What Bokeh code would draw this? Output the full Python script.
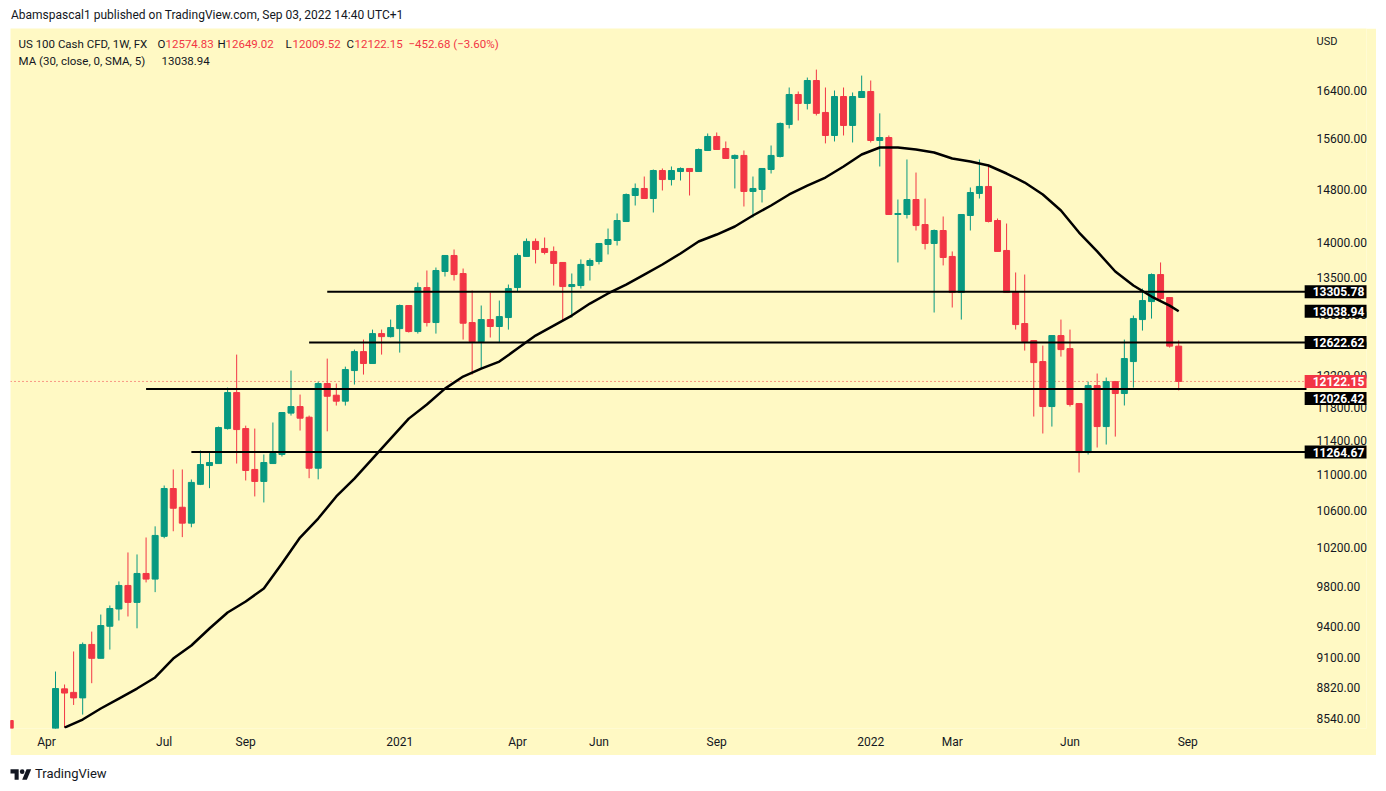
import numpy as np
import pandas as pd
from bokeh.plotting import figure
from bokeh.models import (ColumnDataSource, FixedTicker, PrintfTickFormatter,
                          Range1d, Label, Div)
from bokeh.layouts import column
from bokeh.embed import file_html
from bokeh.resources import INLINE

nan = float("nan")

# ---------------- data (weekly candles, US 100 Cash CFD) ----------------
week_dates = pd.date_range("2020-03-09", periods=130, freq="7D")

opens = [8523, nan, nan, nan, nan,
         8240, 8808, 8776, 8726, 9224, 9092, 9400, 9570, 9807, 9636,
         9930, 9872, 10320, 10846, 10637, 10463, 10893, 11108, 11131, 11543,
         11983, 11543, 11063, 10926, 11131, 11236, 11730, 11810, 11680, 11077,
         12096, 11950, 11876, 12260, 12504, 12350, 12740, 12700, 12806, 13117,
         12767, 13364, 12887, 13589, 13817, 13560, 12887, 12635, 12927, 12834,
         12954, 13364, 13803, 14020, 13918, 13875, 13717, 13378, 13392, 13675,
         13731, 13976, 14034, 14313, 14705, 14813, 14659, 15092, 14951, 15076,
         15124, 15076, 15409, 15635, 15441, 15282, 15330, 14767, 14797, 15108,
         15314, 15832, 16332, 16181, 16571, 16030, 15651, 16298, 15815, 16281,
         16383, 15570, 15618, 14418, 14418, 14644, 14268, 13990, 14180, 13803,
         13295, 14403, 14736, 14844, 14328, 13889, 13309, 12874, 12648, 12375,
         11810, 12714, 12543, 11847, 11259, 12070, 11567, 12120, 11971, 12375,
         12927, 13171, 13546, 13226, 12574.83]

highs = [8523, nan, nan, nan, nan,
         8968, 8848, 9157, 9243, 9348, 9515, 9605, 9848, 10149, 10128,
         10308, 10428, 10880, 11063, 11063, 10948, 11283, 11271, 11567, 12045,
         12465, 11578, 11543, 11236, 11616, 11740, 12260, 11958, 11700, 12120,
         12413, 12096, 12310, 12530, 12661, 12793, 12793, 12927, 13130, 13117,
         13434, 13603, 13645, 13817, 13903, 13631, 13323, 13117, 13295, 13185,
         13406, 13846, 14063, 14063, 14077, 13947, 13717, 13561, 13760, 13774,
         13990, 14209, 14433, 14736, 14890, 14998, 15108, 15124, 15155, 15140,
         15124, 15441, 15684, 15700, 15554, 15346, 15409, 14998, 15124, 15489,
         15864, 16451, 16383, 16622, 16760, 16451, 16400, 16451, 16366, 16656,
         16571, 16015, 15651, 14644, 15266, 15060, 14659, 14195, 14388, 13875,
         14418, 14828, 15266, 15187, 14358, 14283, 13575, 13546, 12648, 12582,
         12714, 12927, 12793, 11847, 12120, 12222, 12171, 12120, 12661, 12981,
         13350, 13561, 13717, 13226, 12649.02]

lows = [8300, nan, nan, nan, nan,
        8150, 8460, 8662, 8576, 8860, 9092, 9175, 9456, 9496, 9380,
        9838, 9739, 10300, 10375, 10312, 10418, 10885, 10850, 11131, 11531,
        11131, 10937, 10757, 10690, 11131, 11213, 11700, 11519, 10963, 10950,
        11510, 11822, 11822, 12083, 12209, 12350, 12465, 12688, 12491, 12754,
        12740, 12834, 12740, 13518, 13462, 12661, 12209, 12285, 12688, 12622,
        12793, 13309, 13803, 13703, 13832, 13392, 12914, 12954, 13350, 13462,
        13689, 13832, 13961, 14313, 14553, 14659, 14448, 14782, 14859, 14936,
        14705, 15076, 15409, 15425, 15282, 14813, 14538, 14373, 14599, 15045,
        15298, 15766, 15897, 16080, 15980, 15523, 15554, 15651, 15538, 16281,
        15538, 15155, 14418, 13717, 14358, 14180, 13903, 13022, 13675, 13090,
        12927, 14180, 14659, 14300, 13875, 13295, 12793, 12517, 11688, 11484,
        11567, 12439, 11810, 11028, 11236, 11318, 11353, 11447, 11823, 12045,
        12780, 12940, 13185, 12556, 12009.52]

closes = [8380, nan, nan, nan, nan,
          8811, 8770, 8726, 9224, 9092, 9407, 9575, 9807, 9636, 9930,
          9872, 10330, 10846, 10626, 10463, 10915, 11120, 11143, 11555, 11983,
          11531, 11051, 10926, 11143, 11248, 11737, 11810, 11668, 11077, 12096,
          11937, 11876, 12273, 12504, 12350, 12740, 12700, 12820, 13117, 12767,
          13364, 12887, 13603, 13817, 13546, 12878, 12635, 12927, 12834, 12967,
          13350, 13817, 14020, 13903, 13860, 13703, 13378, 13406, 13689, 13745,
          13990, 14048, 14328, 14720, 14813, 14659, 15092, 14951, 15092, 15124,
          15076, 15425, 15635, 15425, 15282, 15330, 14767, 14813, 15124, 15330,
          15848, 16332, 16181, 16571, 16015, 15651, 16298, 15815, 16298, 16383,
          15570, 15618, 14418, 14433, 14644, 14253, 13990, 14180, 13788, 13295,
          14418, 14751, 14844, 14313, 13875, 13295, 12860, 12635, 12362, 11810,
          12714, 12530, 11835, 11259, 12070, 11567, 12120, 11971, 12414, 12940,
          13185, 13546, 13212, 12574.83, 12122.15]

# MA (30, close, 0, SMA, 5) at these week indices
ma_week = [6, 8, 10, 12, 14, 16, 18, 20, 22, 24, 26, 28, 30, 32, 34, 36, 38, 40,
           42, 44, 46, 48, 50, 52, 54, 56, 58, 60, 62, 64, 66, 68, 70, 72, 74, 76,
           78, 80, 82, 84, 86, 88, 90, 92, 94, 96, 98, 100, 102, 104, 106, 108,
           110, 112, 114, 116, 118, 120, 122, 124, 126, 128, 129]
ma_value = [8461, 8532, 8630, 8720, 8811, 8913, 9090, 9214, 9378, 9535,
            9645, 9776, 10034, 10307, 10513, 10757, 10959, 11189, 11423, 11663,
            11835, 12032, 12184, 12285, 12375, 12543, 12714, 12847, 12981, 13144,
            13282, 13406, 13546, 13688, 13846, 14019, 14121, 14239, 14403, 14553,
            14721, 14858, 14982, 15155, 15345, 15457, 15457, 15425, 15377, 15281,
            15234, 15171, 15045, 14905, 14721, 14478, 14150, 13875, 13589, 13392,
            13240, 13116, 13038.94]

# horizontal levels drawn by the author
level_values = [13305.78, 12622.62, 12026.42, 11264.67]
level_start = ["2020-11-09", "2020-10-26", "2020-06-22", "2020-07-27"]

last_close = 12122.15

y_ticks = [8540, 8820, 9100, 9400, 9800, 10200, 10600, 11000, 11400, 11800,
           12200, 12600, 13000, 13500, 14000, 14800, 15600, 16400]
x_tick_dates = ["2020-04-06", "2020-07-06", "2020-09-07", "2021-01-04", "2021-04-05",
                "2021-06-07", "2021-09-06", "2022-01-03", "2022-03-07", "2022-06-06",
                "2022-09-05"]
x_tick_labels = ["Apr", "Jul", "Sep", "2021", "Apr", "Jun", "Sep", "2022", "Mar", "Jun", "Sep"]

legend_title = "US 100 Cash CFD, 1W, FX"
legend_ohlc = [("O", "12574.83"), ("H", "12649.02"), ("L", "12009.52"), ("C", "12122.15")]
legend_change = "\u2212452.68 (\u22123.60%)"
legend_ma = "MA (30, close, 0, SMA, 5)"
legend_ma_value = "13038.94"

# ---------------- styling / layout ----------------
YEL = "#FFF9C4"
GREEN = "#089981"
RED = "#F23645"
INK = "#131722"
FONT = "Roboto"

WEEK_MS = 7 * 24 * 3600 * 1000
T0 = pd.Timestamp("2020-04-13").value // 10**6

# page-pixel geometry of the chart frame
FR_L, FR_R, FR_T, FR_B = 10, 1366, 28, 728


def t_at(px):
    """page x pixel -> time (ms)"""
    return T0 + (px - 55.0) / 9.058 * WEEK_MS


def p_at(py):
    """page y pixel -> price (log scale)"""
    return 16400.0 * np.exp(-(py - 90.0) / 962.6)


def ms(d):
    return pd.Timestamp(d).value // 10**6


df = pd.DataFrame(dict(date=week_dates, open=opens, high=highs, low=lows, close=closes)).dropna()
df["t"] = df["date"].astype("int64") // 10**6
df["color"] = np.where(df["close"] >= df["open"], GREEN, RED)
df["top"] = df[["open", "close"]].max(axis=1)
df["bottom"] = df[["open", "close"]].min(axis=1)
src = ColumnDataSource(df[["t", "high", "low", "top", "bottom", "color"]])

p = figure(frame_width=FR_R - FR_L, frame_height=FR_B - FR_T,
           x_axis_type="datetime", y_axis_type="log", y_axis_location="right",
           x_range=Range1d(t_at(FR_L), t_at(FR_R)),
           y_range=Range1d(p_at(FR_B), p_at(FR_T)),
           toolbar_location=None, output_backend="svg",
           background_fill_color=YEL, border_fill_color=YEL,
           outline_line_color=None,
           min_border_left=0, min_border_right=10, min_border_top=0, min_border_bottom=27)
p.margin = (0, 0, 0, 10)
p.xgrid.visible = False
p.ygrid.visible = False

for ax in (p.xaxis[0], p.yaxis[0]):
    ax.axis_line_color = None
    ax.major_tick_line_color = None
    ax.minor_tick_line_color = None
    ax.major_tick_out = 0
    ax.major_tick_in = 0
    ax.major_label_text_font = FONT
    ax.major_label_text_font_size = "12px"
    ax.major_label_text_color = INK

p.yaxis[0].ticker = FixedTicker(ticks=y_ticks)
p.yaxis[0].formatter = PrintfTickFormatter(format="%.2f")
p.yaxis[0].major_label_standoff = -50   # price scale drawn over the right strip of the frame

x_ticks = [ms(d) for d in x_tick_dates]
p.xaxis[0].ticker = FixedTicker(ticks=x_ticks)
p.xaxis[0].major_label_overrides = {float(t): lab for t, lab in zip(x_ticks, x_tick_labels)}
p.xaxis[0].major_label_standoff = 6

# last price dotted line
p.segment(x0=[t_at(FR_L)], y0=[last_close], x1=[t_at(1306)], y1=[last_close],
          line_color=RED, line_dash="1 3", line_width=1)

# candles
p.segment(x0="t", y0="low", x1="t", y1="high", source=src, line_color="color", line_width=1)
p.vbar(x="t", width=6 / 9.058 * WEEK_MS, top="top", bottom="bottom", source=src,
       fill_color="color", line_color="color", line_width=1)

# moving average
p.line(x=[week_dates[i] for i in ma_week], y=ma_value, line_color="black", line_width=2.5)

# horizontal levels
p.segment(x0=[ms(d) for d in level_start], y0=level_values,
          x1=[t_at(1306)] * len(level_values), y1=level_values,
          line_color="black", line_width=2)


def txt(x_px, y_px, s, color=INK, size="11.5px", align="left", bold=False):
    lab = Label(x=t_at(x_px), y=p_at(y_px), text=s, text_color=color,
                text_font=FONT, text_font_size=size, text_align=align,
                text_baseline="middle", text_font_style="bold" if bold else "normal")
    p.add_layout(lab)
    return lab


# legend text
txt(18, 43, legend_title)
for (k, v), kx, vx in zip(legend_ohlc, [157, 217, 285, 346], [165, 225, 292, 354]):
    txt(kx, 43, k)
    txt(vx, 43, v, color=RED)
txt(408, 43, legend_change, color=RED)
txt(18, 60, legend_ma)
txt(161, 60, legend_ma_value)

txt(1316, 41, "USD", size="11px")

# price badges on the price scale
badges = [(f"{level_values[0]:.2f}", level_values[0], "#000000"),
          (f"{ma_value[-1]:.2f}", ma_value[-1], "#000000"),
          (f"{level_values[1]:.2f}", level_values[1], "#000000"),
          (f"{last_close:.2f}", last_close, RED),
          (f"{level_values[2]:.2f}", p_at(398), "#000000"),
          (f"{level_values[3]:.2f}", level_values[3], "#000000")]
for s, yv, col in badges:
    p.add_layout(Label(x=t_at(1338), y=yv, text=s, text_color="white",
                       text_font=FONT, text_font_size="12px", text_font_style="bold",
                       text_align="center", text_baseline="middle",
                       background_fill_color=col,
                       padding=dict(left=8, right=8, top=2, bottom=2)))

header = Div(text="Abamspascal1 published on TradingView.com, Sep 03, 2022 14:40 UTC+1",
             width=1370, height=20, margin=(8, 0, 0, 8),
             styles={"font-family": FONT, "font-size": "12px", "color": INK,
                     "padding-left": "3px", "line-height": "14px"})

logo = ('<svg width="22" height="14" viewBox="0 0 36 24" style="display:block">'
        '<path d="M14 22H7V11H0V4h14v18z" fill="#131722"/>'
        '<circle cx="20" cy="8" r="4" fill="#131722"/>'
        '<path d="M28 22h-8l7.5-18h8z" fill="#131722"/></svg>')
footer = Div(text=('<div style="display:flex;align-items:center;padding-top:10px;padding-left:2px">'
                   + logo + '<span style="margin-left:3px">TradingView</span></div>'),
             width=1370, height=34, margin=(0, 0, 0, 8),
             styles={"font-family": FONT, "font-size": "13px", "color": INK})

layout = column(header, p, footer, spacing=0)

open("out.html", "w").write(file_html(layout, INLINE))
